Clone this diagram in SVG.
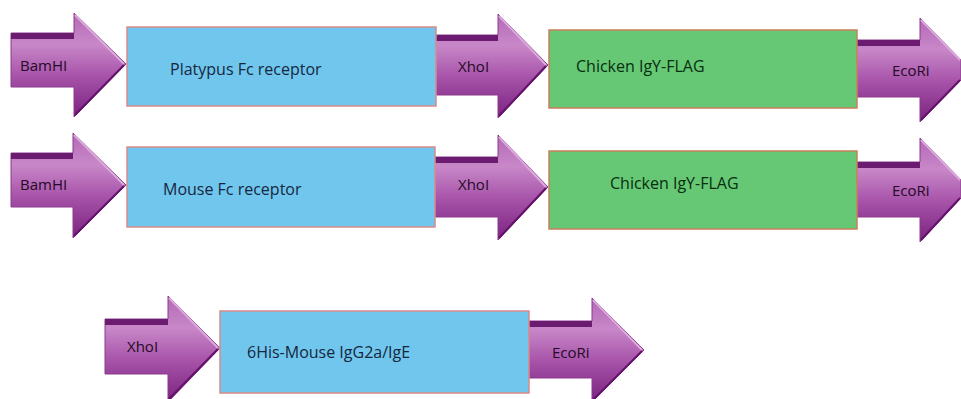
<svg xmlns="http://www.w3.org/2000/svg" width="961" height="399" viewBox="0 0 961 399">
<defs>
<linearGradient id="pg" x1="0" y1="0" x2="0" y2="1">
<stop offset="0" stop-color="#b468b6"/>
<stop offset="0.3" stop-color="#c888c8"/>
<stop offset="0.6" stop-color="#a854aa"/>
<stop offset="1" stop-color="#7a2280"/>
</linearGradient>
<style>
.arr{fill:url(#pg);stroke:#8a3a8c;stroke-width:1}
.band{fill:#6c1c70}
.hl{fill:none;stroke:#dcaadc;stroke-width:2}
.sh{fill:none;stroke:#64126a;stroke-width:2}
.blue{fill:#70c6ec;stroke:#d98a8a;stroke-width:1.5}
.green{fill:#66c774;stroke:#c8805a;stroke-width:1.5}
.t{font-family:"Open Sans","Noto Sans",sans-serif;font-size:15px}
.bx{font-size:16px}
.tp{fill:#240a26}
.tb{fill:#16263f}
.tg{fill:#082e10}
</style>
</defs>
<g id="connectors">
</g>
<g id="bamhi1">
<polygon class="arr" points="11,33 74,33 74,13 126,64 74,117 74,87 11,87"/>
<polygon class="band" points="11,33 74,33 74,39 11,39"/>
<polyline class="hl" points="75,15 124,64"/>
<polyline class="sh" points="124,65 75,115"/>
<text class="t tp" x="20" y="71">BamHI</text>
</g>
<g id="xhoi1">
<polygon class="arr" points="430,35 498,35 498,14 548,65 498,118 498,95 430,95"/>
<polygon class="band" points="430,35 498,35 498,41 430,41"/>
<polyline class="hl" points="499,16 546,65"/>
<polyline class="sh" points="546,66 499,116"/>
<text class="t tp" x="458" y="72">XhoI</text>
</g>
<g id="ecori1">
<polygon class="arr" points="850,40 920,40 920,18 961,60 961,80 920,122 920,97 850,97"/>
<polygon class="band" points="850,40 920,40 920,46 850,46"/>
<polyline class="hl" points="921,20 960,60"/>
<polyline class="sh" points="960,80 921,120"/>
<text class="t tp" x="892" y="76">EcoRi</text>
</g>
<g id="platypus">
<rect class="blue" x="127" y="27" width="309" height="79"/>
<text class="t bx tb" x="170" y="75">Platypus Fc receptor</text>
</g>
<g id="chicken1">
<rect class="green" x="549" y="30" width="308" height="78"/>
<text class="t bx tg" x="576" y="72">Chicken IgY-FLAG</text>
</g>
<g id="bamhi2">
<polygon class="arr" points="11,153 73,153 73,133 126,185 73,238 73,207 11,207"/>
<polygon class="band" points="11,153 73,153 73,159 11,159"/>
<polyline class="hl" points="74,135 124,185"/>
<polyline class="sh" points="124,186 74,236"/>
<text class="t tp" x="20" y="190">BamHI</text>
</g>
<g id="xhoi2">
<polygon class="arr" points="430,157 498,157 498,135 548,187 498,240 498,217 430,217"/>
<polygon class="band" points="430,157 498,157 498,163 430,163"/>
<polyline class="hl" points="499,137 546,187"/>
<polyline class="sh" points="546,188 499,238"/>
<text class="t tp" x="458" y="190">XhoI</text>
</g>
<g id="ecori2">
<polygon class="arr" points="850,162 920,162 920,138 961,180 961,198 920,242 920,217 850,217"/>
<polygon class="band" points="850,162 920,162 920,168 850,168"/>
<polyline class="hl" points="921,140 960,180"/>
<polyline class="sh" points="960,198 921,240"/>
<text class="t tp" x="892" y="196">EcoRi</text>
</g>
<g id="mouse">
<rect class="blue" x="127" y="147" width="308" height="80"/>
<text class="t bx tb" x="163" y="195">Mouse Fc receptor</text>
</g>
<g id="chicken2">
<rect class="green" x="549" y="151" width="308" height="78"/>
<text class="t bx tg" x="610" y="189">Chicken IgY-FLAG</text>
</g>
<g id="xhoi3">
<polygon class="arr" points="105,319 168,319 168,296 220,348 168,402 168,374 105,374"/>
<polygon class="band" points="105,319 168,319 168,325 105,325"/>
<polyline class="hl" points="169,298 218,348"/>
<polyline class="sh" points="218,349 169,399"/>
<text class="t tp" x="127" y="352">XhoI</text>
</g>
<g id="ecori3">
<polygon class="arr" points="520,321 592,321 592,298 644,350 592,402 592,378 520,378"/>
<polygon class="band" points="520,321 592,321 592,327 520,327"/>
<polyline class="hl" points="593,300 642,350"/>
<polyline class="sh" points="642,351 593,400"/>
<text class="t tp" x="552" y="358">EcoRi</text>
</g>
<g id="igg">
<rect class="blue" x="220" y="311" width="309" height="82"/>
<text class="t bx tb" x="247" y="358">6His-Mouse IgG2a/IgE</text>
</g>
</svg>
